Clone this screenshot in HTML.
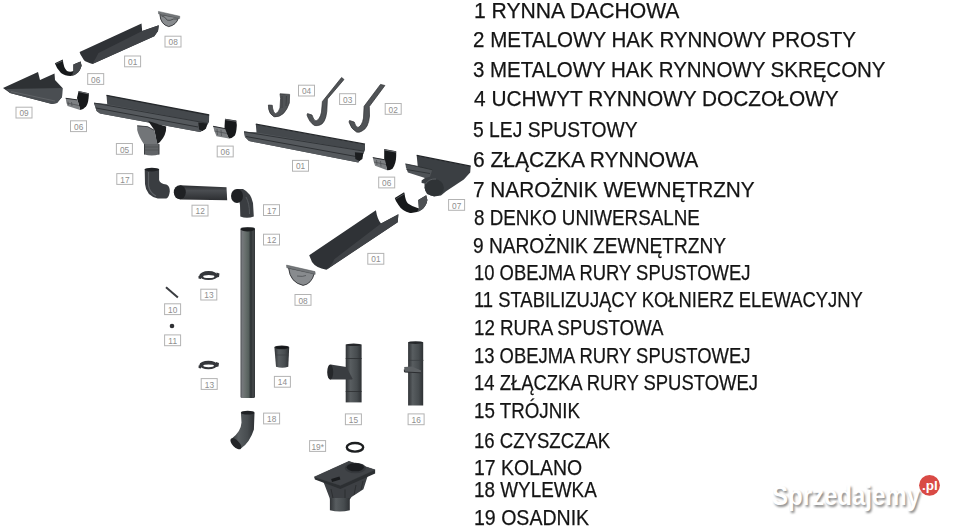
<!DOCTYPE html>
<html><head><meta charset="utf-8"><style>
html,body{margin:0;padding:0;background:#fff;width:960px;height:530px;overflow:hidden}
body{position:relative;font-family:"Liberation Sans",sans-serif}
.t{position:absolute;font-size:22.5px;line-height:0;color:#141414;-webkit-text-stroke:0.25px #141414;white-space:nowrap;transform-origin:0 0}
svg{position:absolute;left:0;top:0}
</style></head><body>
<svg width="960" height="530" viewBox="0 0 960 530">
<g fill="none" stroke="#b3b3b3" stroke-width="1">
<rect x="165.0" y="36.2" width="16.0" height="10.8"/>
<rect x="124.6" y="56.0" width="16.0" height="10.8"/>
<rect x="87.7" y="73.6" width="16.0" height="10.8"/>
<rect x="16.0" y="107.2" width="16.0" height="10.8"/>
<rect x="70.5" y="120.8" width="16.0" height="10.8"/>
<rect x="116.4" y="143.5" width="16.0" height="10.8"/>
<rect x="217.2" y="146.1" width="16.0" height="10.8"/>
<rect x="298.5" y="85.2" width="16.0" height="10.8"/>
<rect x="339.6" y="93.7" width="16.0" height="10.8"/>
<rect x="385.2" y="103.5" width="16.0" height="10.8"/>
<rect x="292.5" y="160.4" width="16.0" height="10.8"/>
<rect x="378.7" y="177.1" width="16.0" height="10.8"/>
<rect x="448.6" y="199.5" width="16.0" height="10.8"/>
<rect x="367.8" y="253.4" width="16.0" height="10.8"/>
<rect x="295.0" y="294.5" width="16.0" height="10.8"/>
<rect x="116.8" y="173.6" width="16.0" height="10.8"/>
<rect x="192.0" y="205.2" width="16.0" height="10.8"/>
<rect x="263.5" y="204.7" width="16.0" height="10.8"/>
<rect x="263.5" y="234.2" width="16.0" height="10.8"/>
<rect x="200.8" y="289.2" width="16.0" height="10.8"/>
<rect x="164.6" y="303.8" width="16.0" height="10.8"/>
<rect x="164.6" y="334.9" width="16.0" height="10.8"/>
<rect x="201.2" y="378.6" width="16.0" height="10.8"/>
<rect x="274.4" y="376.4" width="16.0" height="10.8"/>
<rect x="263.6" y="413.1" width="16.0" height="10.8"/>
<rect x="345.4" y="413.9" width="16.0" height="10.8"/>
<rect x="408.1" y="413.9" width="16.0" height="10.8"/>
<rect x="309.6" y="440.6" width="16.0" height="10.8"/>
</g><g fill="#8e8e8e" font-family="Liberation Sans" font-size="8.3" letter-spacing="0.1" text-anchor="middle">
<text x="173.2" y="45.2">08</text>
<text x="132.8" y="65.0">01</text>
<text x="95.8" y="82.6">06</text>
<text x="24.1" y="116.2">09</text>
<text x="78.7" y="129.8">06</text>
<text x="124.6" y="152.5">05</text>
<text x="225.3" y="155.1">06</text>
<text x="306.6" y="94.2">04</text>
<text x="347.8" y="102.7">03</text>
<text x="393.3" y="112.5">02</text>
<text x="300.6" y="169.4">01</text>
<text x="386.8" y="186.1">06</text>
<text x="456.8" y="208.5">07</text>
<text x="375.9" y="262.4">01</text>
<text x="303.1" y="303.5">08</text>
<text x="124.9" y="182.6">17</text>
<text x="200.2" y="214.2">12</text>
<text x="271.7" y="213.7">17</text>
<text x="271.7" y="243.2">12</text>
<text x="208.9" y="298.2">13</text>
<text x="172.7" y="312.8">10</text>
<text x="172.7" y="343.9">11</text>
<text x="209.4" y="387.6">13</text>
<text x="282.5" y="385.4">14</text>
<text x="271.8" y="422.1">18</text>
<text x="353.5" y="422.9">15</text>
<text x="416.3" y="422.9">16</text>
<text x="317.8" y="449.6">19*</text>
</g>
<defs>
<linearGradient id="vp" x1="0" x2="1" y1="0" y2="0">
<stop offset="0" stop-color="#4a4c50"/><stop offset="0.12" stop-color="#75787c"/><stop offset="0.3" stop-color="#6a716f"/><stop offset="0.55" stop-color="#56605d"/><stop offset="0.72" stop-color="#2b3032"/><stop offset="0.86" stop-color="#45494b"/><stop offset="1" stop-color="#303336"/>
</linearGradient>
<linearGradient id="vp2" x1="0" x2="1" y1="0" y2="0">
<stop offset="0" stop-color="#303336"/><stop offset="0.3" stop-color="#585d60"/><stop offset="0.7" stop-color="#474c4f"/><stop offset="1" stop-color="#2e3134"/>
</linearGradient>
<linearGradient id="hp" x1="0" x2="0" y1="0" y2="1">
<stop offset="0" stop-color="#2a2c2f"/><stop offset="0.35" stop-color="#4a4d51"/><stop offset="1" stop-color="#2c2e31"/>
</linearGradient>
<filter id="sh" x="-10%" y="-30%" width="120%" height="160%"><feGaussianBlur stdDeviation="1.2"/></filter>
</defs>
<!-- A gutter 01 top -->
<path d="M79.6,52 L141.5,23.4 L142.2,31 L158.8,25.3 L158,31 L154.3,36.2 L92.4,64.1 Q86,62 84,60.3 L80.5,54.5 Z" fill="#2f3236"/>
<path d="M98.5,53 L142.2,31 L158.8,25.3 L158,31 L154.3,36.2 L92.4,64.1 Q96,58 98.5,53 Z" fill="#3f4246"/>
<!-- B denko 08 top -->
<path d="M159.9,14.5 Q160.5,24.5 168.7,26.6 Q176.5,25 178.6,17.5 Z" fill="#888b8e" stroke="#2c2e31" stroke-width="0.9"/>
<path d="M158.4,11.4 L179.8,16.3 L179.6,18.6 L158.6,13.9 Z" fill="#74777a" stroke="#55585b" stroke-width="0.5"/>
<path d="M161.4,15.8 Q165,16.5 167.3,20.2 Q170,21 173.6,19 L177.5,19" fill="none" stroke="#45484b" stroke-width="0.9"/>
<!-- D connector 06 top -->
<path d="M54.9,63.2 L62.8,59.6 Q63.5,68 67,71 Q70,72.5 73.4,71.1 L73.4,64.5 L80.6,61.6 L81.6,65.8 Q80.5,70 78,72.5 Q75,75.5 70.5,76 Q65,76 61,73 Q56.5,68.5 54.9,63.2 Z" fill="#17191b"/>
<path d="M73.4,64.5 L80.6,61.6 L81.6,65.8 Q80.5,70 78,72.5 Q75,75.5 72,75.8 L73.4,71.1 Z" fill="#45484b"/>
<path d="M55.5,64 L62.9,60.8" stroke="#55585b" stroke-width="0.9"/>
<!-- E corner 09 -->
<path d="M3,88 L38,72 L40,80 L54.5,73.5 L55,80 L62.5,88 L62,97 L57,103 L52,104 L10,93 Z" fill="#2e3134"/>
<path d="M6,89 L62.5,88 L62,97 L57,103 L52,104 L10,93 Z" fill="#4a4e52"/>
<path d="M11,91.5 L55,101" stroke="#64676b" stroke-width="0.8"/>
<!-- F connector 06 second -->
<path d="M78.6,90.9 L89,93.3 L88.6,98 Q88,104 86,106.5 Q83,109.8 80.2,110.1 L77,98.1 Z" fill="#17191b"/>
<path d="M78.6,91.6 L89,94" stroke="#6e7174" stroke-width="0.9"/>
<path d="M65.7,98.1 L77.5,99.7 L80.2,110.1 L67.5,106 Q66,102 65.7,98.1 Z" fill="#7d8083"/>
<path d="M65.7,98.3 L77.5,99.9" stroke="#2b2d30" stroke-width="1"/>
<path d="M66.8,103 L79,105.5 M68,101.5 L68.5,105 M71.5,102 L72,106" stroke="#4a4d50" stroke-width="0.7"/>
<!-- G gutter 01 mid-left -->
<path d="M94,102.9 L107.2,104 L106.5,95.3 L209.2,115 L209,122 L205,129 L200,132 L100,113.5 L96.6,111 Z" fill="#44484c"/>
<path d="M106.5,95.3 L209.2,115" stroke="#26292c" stroke-width="1.3"/>
<path d="M94,102.9 L107.2,104.2 L207,123 L205,129 L200,132 L100,113.5 L96.6,111 Z" fill="#55595d"/>
<path d="M94,103 L207,123.2" stroke="#2e3134" stroke-width="0.9"/>
<path d="M96,108 L198,127" stroke="#2e3134" stroke-width="1"/>
<path d="M198.3,122.6 L207.3,123.5 L206,128.5 L202.5,131 L199,129.5 Z" fill="#1c1e20"/>
<!-- H funnel 05 -->
<path d="M148.1,121 L166.2,126.5 Q166.5,135 160,142 L157.1,144.5 L154.4,130.1 Z" fill="#1c1e20"/>
<path d="M137.2,125.6 L147.6,126.5 L154.4,130.1 L157.1,142.8 L159,145 L144.5,145 Q138.5,136.5 137.2,130.1 Z" fill="#727578"/>
<path d="M137.2,125.8 L147.6,126.7 L154.4,130.3" fill="none" stroke="#3a3c3f" stroke-width="0.9"/>
<path d="M144.5,144.1 L159,144.1 L159,154.5 Q151.7,156.5 144.5,154.5 Z" fill="#616467"/>
<path d="M144.5,144.1 L144.5,154.5 M159,144.1 L159,154.5" stroke="#3a3d40" stroke-width="1"/>
<path d="M144.5,147 L159,147 M144.5,150 L159,150" stroke="#46494c" stroke-width="0.6"/>
<!-- I connector 06 mid -->
<path d="M225,118.8 L236.3,120.5 L236.8,125 Q236.5,133 234.6,135.8 Q232,138.5 228.9,138.6 L224.4,129.5 Z" fill="#17191b"/>
<path d="M225,119.6 L236.3,121.3" stroke="#6e7174" stroke-width="0.9"/>
<path d="M213.1,126.1 L225,128.4 L228.9,138.6 L216.5,136.3 Q214,131 213.1,126.1 Z" fill="#7d8083"/>
<path d="M213.1,126.3 L225,128.6" stroke="#2b2d30" stroke-width="1"/>
<path d="M214.5,131 L227,133.5 M217,129 L217.5,135 M221,130 L221.5,136" stroke="#4a4d50" stroke-width="0.7"/>
<!-- J hooks -->
<g fill="#505356" stroke="#2c2e31" stroke-width="0.7" stroke-linejoin="round">
<path d="M268.4,105 L272.3,105.3 L272.5,108 Q273.5,113 275.5,113.7 Q278.5,113 280,108 L280.6,98.3 L280,93.8 L284,94 L289.6,94.4 L289.3,103 Q287,110 283.2,113.7 Q279,117.5 274,116.8 Q269.5,114 268.7,109.2 Z"/>
<path d="M341.6,77.5 L344,79.5 L327.4,99 L326.8,111.4 Q325.5,123 320,125 Q317,126 314.5,125.5 Q309.5,122.5 307,115 L307.5,113.6 L312,115 Q313.5,120.5 316,121 Q320,119.5 321.5,112 L322.4,101.5 Z"/>
<path d="M380.5,84.4 L384.9,85.5 L369.3,106.5 L369.5,116 Q368.5,128 362,131 Q359,133 356.5,132 Q351,129 349,122 L349.5,120.5 L354.2,122 Q355.5,127 358,127.5 Q362,126 363.5,118 L364.1,106.3 Z"/>
</g>
<path d="M282,96 L282,108 M286.5,96 L286,106" stroke="#3a3c3f" stroke-width="0.8"/>
<!-- K gutter 01 mid-right -->
<path d="M244,131.5 L256.5,132.6 L255.8,124.2 L365,144.2 L365,150 L362,157 L358.3,162.5 L249,141 L245,137 Z" fill="#44484c"/>
<path d="M255.8,124.2 L365,144.2" stroke="#26292c" stroke-width="1.3"/>
<path d="M244,131.7 L256.5,132.5 L364,151 L362,157 L358.3,162.5 L249,141 L245,137 Z" fill="#55595d"/>
<path d="M244,131.8 L364,151.2" stroke="#2e3134" stroke-width="0.9"/>
<path d="M246,136.5 L356,156.5" stroke="#2e3134" stroke-width="1"/>
<path d="M354.9,152.3 L363.2,153.1 L362.4,159.1 L359.4,161 L355.3,159.1 Z" fill="#1c1e20"/>
<!-- L connector 06 -->
<path d="M384.2,149.1 L396.2,151.3 L396.2,156 Q396,164 392.5,168.7 Q390,170.2 387.2,170.2 L384.2,159.6 Z" fill="#17191b"/>
<path d="M384.2,149.9 L396.2,152.1" stroke="#6e7174" stroke-width="0.9"/>
<path d="M372.8,157.4 L384.9,159.6 L387.2,170.2 L375.1,165.7 Q373.5,161.5 372.8,157.4 Z" fill="#7d8083"/>
<path d="M372.8,157.6 L384.9,159.8" stroke="#2b2d30" stroke-width="1"/>
<path d="M374,162 L386,164.5 M376.5,160 L377,165 M380.5,161 L381,166.5" stroke="#4a4d50" stroke-width="0.7"/>
<!-- M corner 07 -->
<path d="M416.7,155.4 L470.7,166.2 L470.2,172.6 L463.8,179.4 L446.1,191.2 L441,195.5 L434,196.5 L427,194 L424.5,188 L424.5,183.5 L421.6,183 L421.6,180.4 L425,178 L417.7,166 Z" fill="#3b3f43"/>
<path d="M416.7,155.4 L470.7,166.2" stroke="#222528" stroke-width="1.2"/>
<path d="M405.4,163.7 L417.7,166.2 L432.4,169.6 L430,176.8 L425,178 L407.9,172.6 L405.9,167.2 Z" fill="#4f5357"/>
<path d="M405.4,163.9 L417.7,166.4 L432.4,169.8 M406.5,169.5 L430,173.5" stroke="#2a2d30" stroke-width="0.8"/>
<ellipse cx="434.3" cy="187.8" rx="9.6" ry="8.5" fill="#2f3336"/>
<path d="M425.5,184 Q429,178.5 436,179" fill="none" stroke="#5a5e62" stroke-width="1"/>
<!-- N connector 06 lower -->
<path d="M394.8,197.9 L404.1,192.2 L404.6,194 Q405.5,201 408,203.5 Q412,206.5 418.9,208.6 L418.3,200.1 L426.2,195.3 L427.4,200.1 Q426.5,206 422,209.5 Q416,213.5 410,213 Q402,211 398.5,205 Q395.5,201 394.8,197.9 Z" fill="#17191b"/>
<path d="M418.3,200.1 L426.2,195.3 L427.4,200.1 Q426.5,206 422,209.5 Q419.5,211.5 417,212 L418.9,208.6 Z" fill="#4d5053"/>
<path d="M395.5,199.2 L404.3,193.8" stroke="#55585b" stroke-width="0.9"/>
<!-- O gutter 01 lower -->
<path d="M309.2,255.2 L375.9,210.3 Q377.5,220 381,223.5 L398.4,214.2 L397.7,222.2 L326.4,269.7 Q316,268 312,262 Z" fill="#2f3236"/>
<path d="M334.3,259.2 L381,223.5 L398.4,214.2 L397.7,222.2 L326.4,269.7 Q332,265 334.3,259.2 Z" fill="#3f4246"/>
<!-- P denko 08 lower -->
<path d="M288.6,268 Q290,282.5 303.1,285.4 Q311.5,284 314.3,273.5 Z" fill="#888b8e" stroke="#2c2e31" stroke-width="0.9"/>
<path d="M286.5,265.1 L315,271.6 L315.2,274.3 L286.8,267.8 Z" fill="#74777a" stroke="#55585b" stroke-width="0.5"/>
<path d="M297,276 Q303,277 306,275.5" fill="none" stroke="#55585b" stroke-width="0.9"/>
<!-- Q kolano 17 left -->
<path d="M144.7,169 L159.1,169 L159.1,180 Q160,184 166.3,184.4 Q170,186 169.8,191.5 Q169,198 166.3,198.4 L157.8,198.4 Q146,196 145,184 Z" fill="#3a3d41"/>
<path d="M148.5,172 L148.5,186 Q150,193 156,196" fill="none" stroke="#5a5e62" stroke-width="1.2"/>
<ellipse cx="151.9" cy="169.6" rx="7.2" ry="1.8" fill="#1f2124"/>
<!-- R pipe 12 horizontal -->
<path d="M179.8,185.3 L226.5,187.2 L227.2,200.3 L179.8,199.4 Z" fill="url(#hp)"/>
<ellipse cx="179.8" cy="192.3" rx="6" ry="7" fill="#1f2124"/>
<!-- S kolano 17 right -->
<path d="M237,189 L243,189 Q251,193 253,203 L253.8,216.5 Q247,219 240.3,216.5 L240,205 Z" fill="#3a3d41"/>
<path d="M246,197 Q249.5,203 249.5,214" fill="none" stroke="#55595d" stroke-width="1"/>
<ellipse cx="237" cy="196" rx="6" ry="7" fill="#1f2124"/>
<!-- T pipe 12 vertical -->
<rect x="240.5" y="227.5" width="14.5" height="170.5" rx="1.5" fill="url(#vp)"/>
<ellipse cx="247.7" cy="229.3" rx="7.1" ry="2.1" fill="#1c1e20"/>
<!-- U obejma 13 upper -->
<path fill-rule="evenodd" d="M199.3,275.6 A9.3,4.5 0 1 1 217.9,275.6 A9.3,4.5 0 1 1 199.3,275.6 Z M203.2,276.4 A5.6,1.5 0 1 0 214.4,276.4 A5.6,1.5 0 1 0 203.2,276.4 Z" fill="#34363a"/>
<path d="M216.5,272.5 L219.5,273.5 L219,277 L216.5,277.5 Z M198.5,276 L201,275.5 L201,279 L198.5,278.5 Z" fill="#34363a"/>
<!-- V 10 -->
<line x1="166" y1="287.3" x2="177.9" y2="297.5" stroke="#3a3c40" stroke-width="2"/>
<!-- W 11 -->
<circle cx="172" cy="326" r="2.3" fill="#2f3134"/>
<!-- X obejma 13 lower -->
<path fill-rule="evenodd" d="M199.4,365 A9,4.2 0 1 1 217.4,365 A9,4.2 0 1 1 199.4,365 Z M203.2,365.8 A5.4,1.4 0 1 0 214,365.8 A5.4,1.4 0 1 0 203.2,365.8 Z" fill="#34363a"/>
<path d="M216,362 L219,363 L218.5,366.5 L216,367 Z M198.6,365.5 L201,365 L201,368.5 L198.6,368 Z" fill="#34363a"/>
<!-- Y zlaczka 14 -->
<path d="M274.4,347.3 L289.2,347.3 L288.3,366.8 Q282.2,368.6 276,366.8 Z" fill="url(#vp2)"/>
<ellipse cx="281.8" cy="347.3" rx="7.4" ry="1.9" fill="#2a2c2f"/>
<ellipse cx="281.8" cy="347.5" rx="6.4" ry="1.3" fill="#141618"/>
<path d="M275.5,355 L288.8,355" stroke="#3a3d40" stroke-width="0.6"/>
<!-- Z wylewka 18 -->
<path d="M240.9,412.7 L241.5,422.6 Q241,432 231.3,439 L240.9,448.6 Q250,442 253.9,429.4 L254.5,412.7 Z" fill="url(#vp2)"/>
<ellipse cx="235.9" cy="443.8" rx="7" ry="3.4" transform="rotate(45 235.9 443.8)" fill="#232528"/>
<ellipse cx="247.7" cy="412.7" rx="6.8" ry="1.9" fill="#1f2124"/>
<!-- AA trojnik 15 -->
<rect x="345.7" y="344.6" width="15.9" height="57.8" fill="url(#vp2)"/>
<path d="M345.7,358.5 L361.6,358.5 M345.7,391.5 L361.6,391.5" stroke="#2c2e31" stroke-width="0.8"/>
<path d="M330.6,364.4 L346.4,367 L352.3,378.3 L352.3,379.6 L329.9,379.6 Z" fill="#3a3d41"/>
<ellipse cx="330.2" cy="372" rx="3" ry="7.6" fill="#25272a"/>
<ellipse cx="353.6" cy="344.8" rx="7.9" ry="1.3" fill="#25272a"/>
<!-- AB czyszczak 16 -->
<rect x="408.1" y="342.3" width="15.1" height="63.2" fill="url(#vp2)"/>
<path d="M404.2,367 L412,366.5 L421,370.5 L421,372.8 L404.5,372 Z" fill="#5d6164"/>
<path d="M404.3,369.5 L404.5,372 L421,372.8" fill="none" stroke="#2c2e31" stroke-width="1"/>
<path d="M408.4,360.4 L423.5,360.4" stroke="#3a3d40" stroke-width="0.7"/>
<ellipse cx="415.6" cy="342.6" rx="7.5" ry="1.4" fill="#25272a"/>
<!-- AC ring -->
<ellipse cx="355" cy="447.35" rx="8.2" ry="4.3" fill="none" stroke="#1c1e20" stroke-width="2.4"/>
<!-- AD osadnik -->
<path d="M323.1,481 L340.4,487 L368,475 L363.4,489.3 L351.5,497 L349.8,499.5 L329.9,499.5 L329.9,498.7 Z" fill="#3d4044"/>
<path d="M331,489 L333,498 M345,489.5 L345,498.5 M356,485 L354,495 M363,481 L361,490" stroke="#2a2c2f" stroke-width="0.9"/>
<path d="M314.2,476.9 L348.9,461.3 L375.1,469.8 L375.1,473.4 L340.4,489 L314.9,479.5 Z" fill="#2c2f32"/>
<path d="M314.2,476.9 L348.9,461.3 L375.1,469.8 L340.4,485.4 Z" fill="#404347" stroke="#404347" stroke-width="0.3"/>
<path d="M329.9,498 L349.8,498 L349.8,510.2 Q339.8,512.8 329.9,510.2 Z" fill="url(#vp2)"/>
<ellipse cx="355.3" cy="468" rx="10.6" ry="5.3" fill="#35383c"/>
<ellipse cx="355.3" cy="467.3" rx="8.6" ry="4" fill="#1c1e21"/>
<path d="M331.2,479 L339.5,476.5 L340.4,479.5 L332,482 Z" fill="#1a1c1e"/>
<!-- AE watermark -->
<text x="772" y="505" font-family="Liberation Sans" font-weight="bold" font-size="27.5" fill="#8a8a8a" filter="url(#sh)" transform="translate(1.5,2)" textLength="148" lengthAdjust="spacingAndGlyphs">Sprzedajemy</text>
<text x="772" y="505" font-family="Liberation Sans" font-weight="bold" font-size="27.5" fill="#ffffff" textLength="148" lengthAdjust="spacingAndGlyphs">Sprzedajemy</text>
<circle cx="929.5" cy="485.3" r="10.4" fill="#d94a45"/>
<text x="929.8" y="490" font-family="Liberation Sans" font-weight="bold" font-size="13.5" fill="#ffffff" text-anchor="middle">.pl</text>

</svg>
<div class="t" style="top:11.0px;left:473.66px;transform:scaleX(0.9390)">1 RYNNA DACHOWA</div>
<div class="t" style="top:40.0px;left:472.89px;transform:scaleX(0.9127)">2 METALOWY HAK RYNNOWY PROSTY</div>
<div class="t" style="top:69.5px;left:472.89px;transform:scaleX(0.9097)">3 METALOWY HAK RYNNOWY SKRĘCONY</div>
<div class="t" style="top:98.5px;left:473.80px;transform:scaleX(0.9260)">4 UCHWYT RYNNOWY DOCZOŁOWY</div>
<div class="t" style="top:130.0px;left:472.94px;transform:scaleX(0.8565)">5 LEJ SPUSTOWY</div>
<div class="t" style="top:159.8px;left:472.87px;transform:scaleX(0.9333)">6 ZŁĄCZKA RYNNOWA</div>
<div class="t" style="top:189.5px;left:472.88px;transform:scaleX(0.9237)">7 NAROŻNIK WEWNĘTRZNY</div>
<div class="t" style="top:217.7px;left:473.80px;transform:scaleX(0.8363)">8 DENKO UNIWERSALNE</div>
<div class="t" style="top:246.0px;left:472.95px;transform:scaleX(0.8503)">9 NAROŻNIK ZEWNĘTRZNY</div>
<div class="t" style="top:272.5px;left:473.78px;transform:scaleX(0.8188)">10 OBEJMA RURY SPUSTOWEJ</div>
<div class="t" style="top:300.3px;left:473.78px;transform:scaleX(0.8177)">11 STABILIZUJĄCY KOŁNIERZ ELEWACYJNY</div>
<div class="t" style="top:328.0px;left:473.77px;transform:scaleX(0.8333)">12 RURA SPUSTOWA</div>
<div class="t" style="top:355.7px;left:473.78px;transform:scaleX(0.8188)">13 OBEJMA RURY SPUSTOWEJ</div>
<div class="t" style="top:382.9px;left:473.78px;transform:scaleX(0.8198)">14 ZŁĄCZKA RURY SPUSTOWEJ</div>
<div class="t" style="top:411.2px;left:473.77px;transform:scaleX(0.8341)">15 TRÓJNIK</div>
<div class="t" style="top:440.5px;left:473.77px;transform:scaleX(0.8256)">16 CZYSZCZAK</div>
<div class="t" style="top:468.0px;left:473.74px;transform:scaleX(0.8645)">17 KOLANO</div>
<div class="t" style="top:490.1px;left:473.76px;transform:scaleX(0.8393)">18 WYLEWKA</div>
<div class="t" style="top:518.0px;left:473.73px;transform:scaleX(0.8687)">19 OSADNIK</div>
</body></html>
